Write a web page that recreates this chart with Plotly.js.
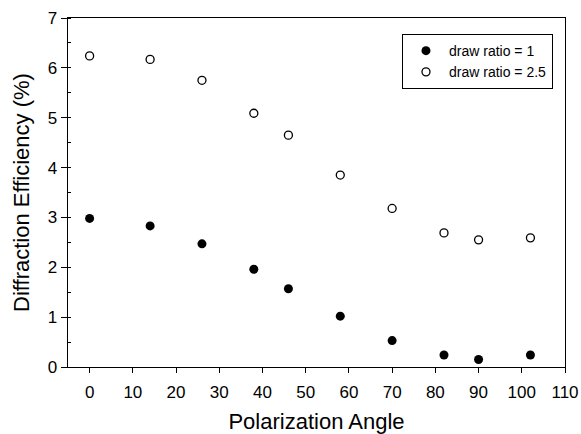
<!DOCTYPE html>
<html>
<head>
<meta charset="utf-8">
<script src="https://cdn.plot.ly/plotly-3.0.1.min.js"></script>
<style>html,body{margin:0;padding:0;background:#fff;}#chart{width:581px;height:434px;}</style>
</head>
<body>
<div id="chart"></div>
<script>
const angles = [0, 14, 26, 38, 46, 58, 70, 82, 90, 102];
const drawRatio1 = [2.98, 2.83, 2.47, 1.96, 1.57, 1.02, 0.53, 0.24, 0.15, 0.24];
const drawRatio25 = [6.24, 6.17, 5.75, 5.09, 4.65, 3.85, 3.18, 2.69, 2.55, 2.59];
const seriesNames = ["draw ratio = 1", "draw ratio = 2.5"];
const xTitle = "Polarization Angle";
const yTitle = "Diffraction Efficiency (%)";

const font = "Liberation Sans, Arial, sans-serif";

const traces = [
  {x: angles, y: drawRatio1, name: seriesNames[0], type: "scatter", mode: "markers",
   marker: {symbol: "circle", size: 9, color: "#000", line: {width: 0}}},
  {x: angles, y: drawRatio25, name: seriesNames[1], type: "scatter", mode: "markers",
   marker: {symbol: "circle-open", size: 8, color: "#000", line: {width: 1.3, color: "#000"}}}
];

const layout = {
  width: 581, height: 434,
  margin: {l: 68, r: 16, t: 18, b: 67},
  paper_bgcolor: "#fff", plot_bgcolor: "#fff",
  font: {family: font, color: "#000"},
  showlegend: true,
  legend: {x: 0.672, y: 0.954, xanchor: "left", yanchor: "top",
           bordercolor: "#000", borderwidth: 1, bgcolor: "#fff",
           font: {family: font, size: 14, color: "#000"}, itemwidth: 36},
  xaxis: {range: [-5, 110], dtick: 10, tick0: 0, ticks: "outside", ticklen: 5, tickwidth: 1,
          tickcolor: "#000", showline: true, linecolor: "#000", linewidth: 1.3, mirror: true,
          showgrid: false, zeroline: false, tickfont: {family: font, size: 17},
          ticklabelstandoff: 4,
          title: {text: xTitle, font: {family: font, size: 22}, standoff: 14}},
  yaxis: {range: [0, 7], dtick: 1, tick0: 0, ticks: "outside", ticklen: 6, tickwidth: 1,
          tickcolor: "#000", showline: true, linecolor: "#000", linewidth: 1.3, mirror: true,
          showgrid: false, zeroline: false, tickfont: {family: font, size: 17},
          minor: {dtick: 0.5, ticks: "inside", ticklen: 3, tickwidth: 1, tickcolor: "#000", showgrid: false},
          title: {text: yTitle, font: {family: font, size: 22}, standoff: 12}},
  yaxis2: {overlaying: "y", matches: "y", side: "left", range: [0, 7], tick0: 0.5, dtick: 1,
           ticks: "outside", ticklen: 3, tickwidth: 1, tickcolor: "#000",
           showticklabels: false, showline: false, showgrid: false, zeroline: false}
};

Plotly.newPlot("chart", traces, layout, {displayModeBar: false, staticPlot: true});
</script>
</body>
</html>
